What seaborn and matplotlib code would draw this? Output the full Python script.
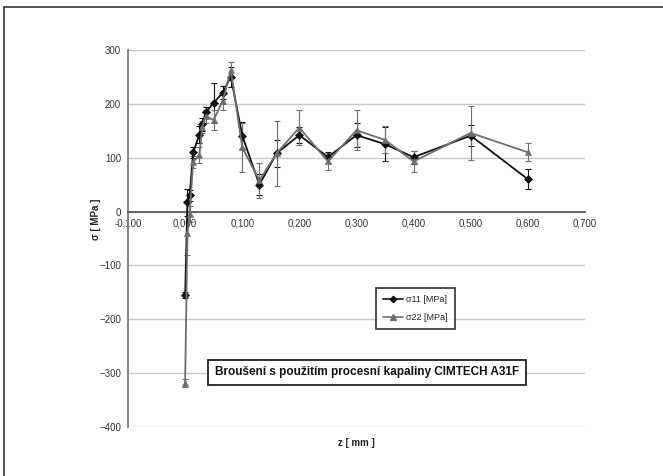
import matplotlib
matplotlib.use("Agg")
import matplotlib.pyplot as plt
import seaborn as sns
import pandas as pd
from matplotlib.lines import Line2D

# ---- data ----
z_mm = [0.000, 0.004, 0.008, 0.014, 0.025, 0.030, 0.036, 0.050, 0.066, 0.080,
        0.100, 0.130, 0.160, 0.200, 0.250, 0.300, 0.350, 0.400, 0.500, 0.600]
sigma11 = [-155, 17, 30, 110, 143, 162, 184, 202, 221, 250,
           141, 50, 108, 142, 101, 142, 125, 101, 141, 60]
sigma22 = [-318, -40, -5, 92, 105, 157, 177, 170, 206, 263,
           119, 58, 108, 156, 93, 151, 133, 93, 146, 110]
err11 = [6, 25, 10, 10, 15, 12, 10, 37, 12, 18,
         25, 20, 25, 15, 10, 22, 32, 12, 20, 19]
err22 = [8, 40, 15, 12, 15, 12, 12, 18, 18, 15,
         45, 33, 60, 33, 15, 37, 25, 20, 50, 17]
series_names = ["σ11 [MPa]", "σ22 [MPa]"]
x_ticks = [-0.1, 0.0, 0.1, 0.2, 0.3, 0.4, 0.5, 0.6, 0.7]
x_tick_labels = ["-0,100", "0,000", "0,100", "0,200", "0,300", "0,400", "0,500", "0,600", "0,700"]
y_ticks = [-400, -300, -200, -100, 0, 100, 200, 300]
x_title = "z [ mm ]"
y_title = "σ [ MPa ]"
box_text = "Broušení s použitím procesní kapaliny CIMTECH A31F"

df = pd.DataFrame({
    "z": z_mm * 2,
    "sigma": sigma11 + sigma22,
    "err": err11 + err22,
    "series": [series_names[0]] * len(z_mm) + [series_names[1]] * len(z_mm),
})

sns.set_theme(style="white")
plt.rcParams["font.family"] = ["Liberation Sans", "DejaVu Sans"]

fig = plt.figure(figsize=(6.63, 4.76), dpi=100)
ax = fig.add_axes([128 / 663, 1 - 427 / 476, (585 - 128) / 663, (427 - 50) / 476])

colors = {series_names[0]: "#111111", series_names[1]: "#6e6e6e"}
markers = {series_names[0]: "D", series_names[1]: "^"}
msizes = {series_names[0]: 4.0, series_names[1]: 5.0}

# error bars
for name in series_names:
    d = df[df["series"] == name]
    ax.errorbar(d["z"], d["sigma"], yerr=d["err"], fmt="none",
                ecolor=colors[name], elinewidth=0.8, capsize=2.5, capthick=0.8, zorder=3)

sns.lineplot(data=df, x="z", y="sigma", hue="series", style="series",
             palette=colors, markers=markers, dashes=False, sort=False,
             linewidth=1.3, markersize=4.5, markeredgewidth=0.5,
             legend=False, ax=ax, zorder=4)
for ln, name in zip(ax.lines[-2:], series_names):
    ln.set_markersize(msizes[name])
    ln.set_markeredgecolor(colors[name])

ax.set_xlim(-0.1, 0.7)
ax.set_ylim(-400, 300)
ax.set_xticks(x_ticks)
ax.set_xticklabels(x_tick_labels)
ax.set_yticks(y_ticks)

ax.yaxis.grid(True, color="#c8c8c8", linewidth=1.0)
ax.xaxis.grid(False)
ax.set_axisbelow(True)

for s in ["top", "right"]:
    ax.spines[s].set_visible(False)
ax.spines["left"].set_color("#7a7a7a")
ax.spines["left"].set_linewidth(1.3)
ax.spines["bottom"].set_position(("data", 0))
ax.spines["bottom"].set_color("#5a5a5a")
ax.spines["bottom"].set_linewidth(1.3)

ax.tick_params(axis="both", which="major", labelsize=7, colors="#333333",
               length=3, width=0.9, direction="out", pad=2)
ax.tick_params(axis="x", colors="#5a5a5a", labelcolor="#333333")
ax.tick_params(axis="y", colors="#7a7a7a", labelcolor="#333333")

ax.set_xlabel(x_title, fontsize=7, fontweight="bold", color="#222222")
ax.set_ylabel(y_title, fontsize=7, fontweight="bold", color="#222222")
ax.xaxis.set_label_coords(0.5, -0.028)
ax.yaxis.set_label_coords(-0.058, 0.55)

# legend
handles = [Line2D([0], [0], color=colors[n], marker=markers[n], markersize=msizes[n] * 0.8,
                  linewidth=1.2) for n in series_names]
leg = ax.legend(handles, series_names, loc="upper left",
                bbox_to_anchor=((376 - 128) / 457, (427 - 288) / 377),
                fontsize=6.5, frameon=True, fancybox=False, handlelength=2.2,
                handletextpad=0.3, borderpad=0.8, labelspacing=1.0, borderaxespad=0)
leg.get_frame().set_edgecolor("#111111")
leg.get_frame().set_linewidth(1.3)

# annotation box
ax.text((367 - 128) / 457, (427 - 372.5) / 377, box_text, transform=ax.transAxes,
        ha="center", va="center", fontsize=8.5, fontweight="bold", color="#111111",
        bbox=dict(boxstyle="square,pad=0.55", facecolor="white", edgecolor="#222222", linewidth=1.3),
        zorder=6)

# outer frame (left and top edges)
fig.add_artist(Line2D([4 / 663, 4 / 663], [0, 1 - 7 / 476], transform=fig.transFigure,
                      color="#333333", linewidth=1.2))
fig.add_artist(Line2D([4 / 663, 1], [1 - 7 / 476, 1 - 7 / 476], transform=fig.transFigure,
                      color="#333333", linewidth=1.2))

fig.savefig("out.png", dpi=100)
